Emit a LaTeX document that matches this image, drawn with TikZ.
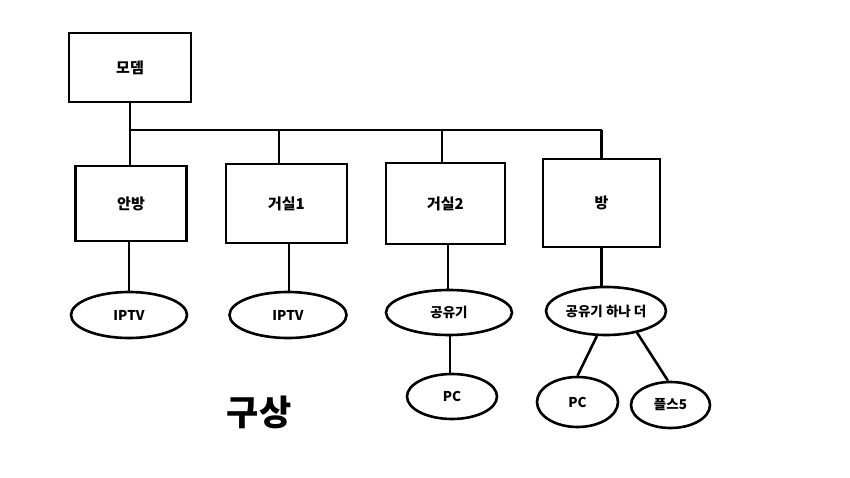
\documentclass[tikz,border=0pt]{standalone}
\usepackage{fontspec}
\setmainfont{Noto Sans CJK KR}
\usetikzlibrary{shapes.geometric}
\tikzset{
  roombox/.style={draw,rectangle,inner sep=0pt,font=\bfseries\fontsize{15}{17}\selectfont},
  devnode/.style={draw,ellipse,inner sep=0pt,font=\bfseries\fontsize{13.5}{15}\selectfont},
}
\begin{document}
\begin{tikzpicture}[x=1pt,y=-1pt,line width=2.6pt,line cap=butt,line join=miter]
\path[use as bounding box] (0,0) rectangle (850,478);
% Top: modem and the shared bus.
\node[roombox,minimum width=122,minimum height=69] (modem) at (130,67.5) {모뎀};
\coordinate (bus) at (130,130);
% Rooms hanging off the bus.
\node[roombox,minimum width=111,minimum height=75] (anbang) at (131,203.5) {안방};
\node[roombox,minimum width=121,minimum height=79] (living1) at (286.5,203.5) {거실1};
\node[roombox,minimum width=119,minimum height=81] (living2) at (445.5,203.5) {거실2};
\node[roombox,minimum width=117,minimum height=88] (bang) at (601.5,203) {방};
% Devices under each room.
\node[devnode,minimum width=116,minimum height=46] (iptv1) at (129,315) {IPTV};
\node[devnode,minimum width=117,minimum height=46] (iptv2) at (288,315) {IPTV};
\node[devnode,minimum width=126,minimum height=45] (router2) at (449,312.5) {공유기};
\node[devnode,minimum width=90,minimum height=45] (pc2) at (452,396.5) {PC};
\node[devnode,minimum width=120,minimum height=48] (router3) at (606,311) {공유기 하나 더};
\node[devnode,minimum width=81,minimum height=50] (pc3) at (577.5,402) {PC};
\node[devnode,minimum width=79,minimum height=46] (ps5) at (670.5,405) {플스5};
% Bus wiring.
\draw (modem.south -| bus) -- (anbang.north -| bus);
\draw (bus) -- (bus -| bang.north);
\draw ([xshift=-7.5pt]living1.north) -- ([xshift=-7.5pt]living1.north |- bus);
\draw ([xshift=-3.5pt]living2.north) -- ([xshift=-3.5pt]living2.north |- bus);
\draw (bang.north) -- (bang.north |- bus);
% Room to device links.
\draw ([xshift=-2pt]anbang.south) -- ([xshift=-2pt]anbang.south |- iptv1.north);
\draw ([xshift=2.5pt]living1.south) -- ([xshift=2.5pt]living1.south |- iptv2.north);
\draw ([xshift=2.5pt]living2.south) -- ([xshift=2.5pt]living2.south |- router2.north);
\draw ([xshift=1pt]router2.south) -- ([xshift=1pt]router2.south |- pc2.north);
\draw (bang.south) -- (bang.south |- router3.north);
\draw (router3.-110) -- (pc3.90);
\draw (router3.-35) -- (ps5.96);
% Caption.
\node[font=\bfseries\fontsize{35}{40}\selectfont] (title) at (259,412) {구상};
\end{tikzpicture}
\end{document}
